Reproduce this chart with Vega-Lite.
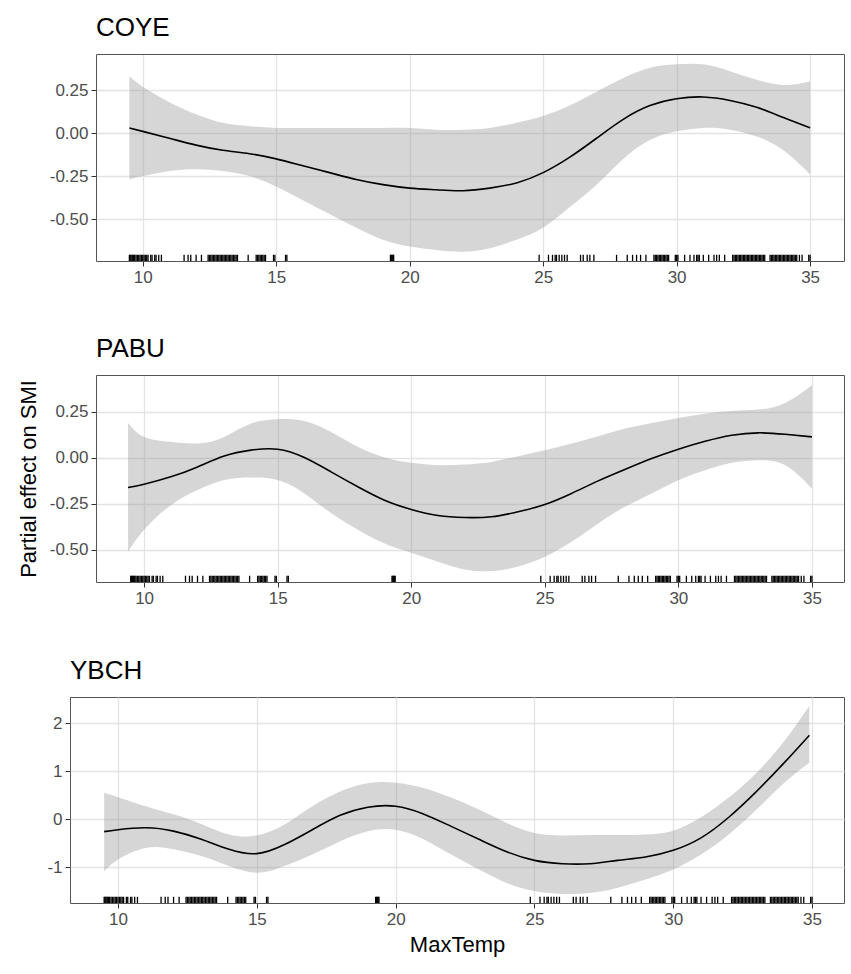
{
  "$schema": "https://vega.github.io/schema/vega-lite/v6.json",
  "background": "white",
  "padding": {"left": 14, "top": 15, "right": 4, "bottom": 4},
  "config": {
    "font": "Liberation Sans",
    "view": {"stroke": "#555555", "strokeWidth": 1},
    "axis": {
      "domain": false,
      "domainColor": "#555555",
      "domainWidth": 1,
      "labelFont": "Liberation Sans",
      "labelFontSize": 17,
      "labelColor": "#4d4d4d",
      "tickColor": "#333333",
      "tickSize": 5,
      "labelPadding": 3,
      "titleFont": "Liberation Sans",
      "titleFontSize": 22,
      "titleFontWeight": "normal",
      "titleColor": "black",
      "titlePadding": 9,
      "gridColor": "#e3e3e3",
      "gridWidth": 1.3
    },
    "title": {
      "anchor": "start",
      "frame": "group",
      "font": "Liberation Sans",
      "fontSize": 26,
      "fontWeight": "normal",
      "color": "black",
      "baseline": "alphabetic",
      "offset": 13
    }
  },
  "datasets": {
    "smooth": [
      {"sp": "COYE", "x": 9.5, "fit": 0.03, "lo": -0.27, "hi": 0.33},
      {"sp": "COYE", "x": 10, "fit": 0.01, "lo": -0.25, "hi": 0.27},
      {"sp": "COYE", "x": 11, "fit": -0.03, "lo": -0.22, "hi": 0.18},
      {"sp": "COYE", "x": 12, "fit": -0.07, "lo": -0.21, "hi": 0.11},
      {"sp": "COYE", "x": 13, "fit": -0.1, "lo": -0.22, "hi": 0.06},
      {"sp": "COYE", "x": 14, "fit": -0.12, "lo": -0.25, "hi": 0.04},
      {"sp": "COYE", "x": 15, "fit": -0.15, "lo": -0.31, "hi": 0.03},
      {"sp": "COYE", "x": 16, "fit": -0.19, "lo": -0.39, "hi": 0.03},
      {"sp": "COYE", "x": 17, "fit": -0.23, "lo": -0.47, "hi": 0.03},
      {"sp": "COYE", "x": 18, "fit": -0.27, "lo": -0.55, "hi": 0.03},
      {"sp": "COYE", "x": 19, "fit": -0.3, "lo": -0.62, "hi": 0.03},
      {"sp": "COYE", "x": 20, "fit": -0.32, "lo": -0.66, "hi": 0.03},
      {"sp": "COYE", "x": 21, "fit": -0.33, "lo": -0.68, "hi": 0.02},
      {"sp": "COYE", "x": 22, "fit": -0.335, "lo": -0.69, "hi": 0.02},
      {"sp": "COYE", "x": 23, "fit": -0.32, "lo": -0.67, "hi": 0.03},
      {"sp": "COYE", "x": 24, "fit": -0.29, "lo": -0.62, "hi": 0.06},
      {"sp": "COYE", "x": 25, "fit": -0.23, "lo": -0.55, "hi": 0.1},
      {"sp": "COYE", "x": 26, "fit": -0.14, "lo": -0.43, "hi": 0.16},
      {"sp": "COYE", "x": 27, "fit": -0.03, "lo": -0.3, "hi": 0.24},
      {"sp": "COYE", "x": 28, "fit": 0.08, "lo": -0.15, "hi": 0.32},
      {"sp": "COYE", "x": 29, "fit": 0.16, "lo": -0.04, "hi": 0.38},
      {"sp": "COYE", "x": 30, "fit": 0.2, "lo": 0.01, "hi": 0.4},
      {"sp": "COYE", "x": 31, "fit": 0.21, "lo": 0.03, "hi": 0.4},
      {"sp": "COYE", "x": 32, "fit": 0.19, "lo": 0.02, "hi": 0.36},
      {"sp": "COYE", "x": 33, "fit": 0.15, "lo": -0.02, "hi": 0.31},
      {"sp": "COYE", "x": 34, "fit": 0.09, "lo": -0.1, "hi": 0.28},
      {"sp": "COYE", "x": 35, "fit": 0.03, "lo": -0.24, "hi": 0.3},
      {"sp": "PABU", "x": 9.4, "fit": -0.161, "lo": -0.51, "hi": 0.19},
      {"sp": "PABU", "x": 10, "fit": -0.143, "lo": -0.39, "hi": 0.114},
      {"sp": "PABU", "x": 11, "fit": -0.103, "lo": -0.257, "hi": 0.087},
      {"sp": "PABU", "x": 12, "fit": -0.049, "lo": -0.175, "hi": 0.078},
      {"sp": "PABU", "x": 13, "fit": 0.01, "lo": -0.12, "hi": 0.114},
      {"sp": "PABU", "x": 14, "fit": 0.042, "lo": -0.107, "hi": 0.186},
      {"sp": "PABU", "x": 15, "fit": 0.047, "lo": -0.12, "hi": 0.21},
      {"sp": "PABU", "x": 16, "fit": 0.002, "lo": -0.193, "hi": 0.2},
      {"sp": "PABU", "x": 17, "fit": -0.076, "lo": -0.3, "hi": 0.141},
      {"sp": "PABU", "x": 18, "fit": -0.157, "lo": -0.39, "hi": 0.06},
      {"sp": "PABU", "x": 19, "fit": -0.23, "lo": -0.465, "hi": 0.002},
      {"sp": "PABU", "x": 20, "fit": -0.28, "lo": -0.515, "hi": -0.027},
      {"sp": "PABU", "x": 21, "fit": -0.313, "lo": -0.564, "hi": -0.04},
      {"sp": "PABU", "x": 22, "fit": -0.324, "lo": -0.606, "hi": -0.036},
      {"sp": "PABU", "x": 23, "fit": -0.32, "lo": -0.615, "hi": -0.022},
      {"sp": "PABU", "x": 24, "fit": -0.293, "lo": -0.59, "hi": 0.009},
      {"sp": "PABU", "x": 25, "fit": -0.253, "lo": -0.537, "hi": 0.042},
      {"sp": "PABU", "x": 26, "fit": -0.193, "lo": -0.456, "hi": 0.078},
      {"sp": "PABU", "x": 27, "fit": -0.125, "lo": -0.356, "hi": 0.118},
      {"sp": "PABU", "x": 28, "fit": -0.063, "lo": -0.266, "hi": 0.159},
      {"sp": "PABU", "x": 29, "fit": -0.004, "lo": -0.193, "hi": 0.19},
      {"sp": "PABU", "x": 30, "fit": 0.047, "lo": -0.121, "hi": 0.217},
      {"sp": "PABU", "x": 31, "fit": 0.09, "lo": -0.067, "hi": 0.24},
      {"sp": "PABU", "x": 32, "fit": 0.123, "lo": -0.027, "hi": 0.255},
      {"sp": "PABU", "x": 33, "fit": 0.136, "lo": -0.013, "hi": 0.262},
      {"sp": "PABU", "x": 34, "fit": 0.128, "lo": -0.04, "hi": 0.298},
      {"sp": "PABU", "x": 35, "fit": 0.114, "lo": -0.166, "hi": 0.394},
      {"sp": "YBCH", "x": 9.5, "fit": -0.26, "lo": -1.09, "hi": 0.55},
      {"sp": "YBCH", "x": 10, "fit": -0.22, "lo": -0.84, "hi": 0.46},
      {"sp": "YBCH", "x": 11, "fit": -0.18, "lo": -0.6, "hi": 0.27},
      {"sp": "YBCH", "x": 12, "fit": -0.25, "lo": -0.63, "hi": 0.1},
      {"sp": "YBCH", "x": 13, "fit": -0.42, "lo": -0.77, "hi": -0.1},
      {"sp": "YBCH", "x": 14, "fit": -0.63, "lo": -0.98, "hi": -0.32},
      {"sp": "YBCH", "x": 15, "fit": -0.72, "lo": -1.12, "hi": -0.34},
      {"sp": "YBCH", "x": 16, "fit": -0.53, "lo": -0.98, "hi": -0.11},
      {"sp": "YBCH", "x": 17, "fit": -0.22, "lo": -0.74, "hi": 0.27},
      {"sp": "YBCH", "x": 18, "fit": 0.08, "lo": -0.46, "hi": 0.58},
      {"sp": "YBCH", "x": 19, "fit": 0.25, "lo": -0.25, "hi": 0.75},
      {"sp": "YBCH", "x": 20, "fit": 0.27, "lo": -0.22, "hi": 0.76},
      {"sp": "YBCH", "x": 21, "fit": 0.11, "lo": -0.42, "hi": 0.65},
      {"sp": "YBCH", "x": 22, "fit": -0.15, "lo": -0.74, "hi": 0.45},
      {"sp": "YBCH", "x": 23, "fit": -0.42, "lo": -1.05, "hi": 0.2},
      {"sp": "YBCH", "x": 24, "fit": -0.68, "lo": -1.33, "hi": -0.08},
      {"sp": "YBCH", "x": 25, "fit": -0.86, "lo": -1.5, "hi": -0.29},
      {"sp": "YBCH", "x": 26, "fit": -0.93, "lo": -1.56, "hi": -0.34},
      {"sp": "YBCH", "x": 27, "fit": -0.93, "lo": -1.54, "hi": -0.33},
      {"sp": "YBCH", "x": 28, "fit": -0.86, "lo": -1.43, "hi": -0.33},
      {"sp": "YBCH", "x": 29, "fit": -0.79, "lo": -1.26, "hi": -0.32},
      {"sp": "YBCH", "x": 30, "fit": -0.65, "lo": -1.05, "hi": -0.24},
      {"sp": "YBCH", "x": 31, "fit": -0.39, "lo": -0.74, "hi": 0.04},
      {"sp": "YBCH", "x": 32, "fit": 0.04, "lo": -0.32, "hi": 0.45},
      {"sp": "YBCH", "x": 33, "fit": 0.58, "lo": 0.2, "hi": 0.97},
      {"sp": "YBCH", "x": 34, "fit": 1.18, "lo": 0.76, "hi": 1.63},
      {"sp": "YBCH", "x": 34.9, "fit": 1.75, "lo": 1.18, "hi": 2.36}
    ],
    "rug": [
      {"t": 9.5}, {"t": 9.53}, {"t": 9.56}, {"t": 9.6}, {"t": 9.63}, {"t": 9.66}, {"t": 9.7}, {"t": 9.75}, {"t": 9.8}, {"t": 9.85},
      {"t": 9.9}, {"t": 9.95}, {"t": 10.0}, {"t": 10.05}, {"t": 10.1}, {"t": 10.15}, {"t": 10.2}, {"t": 10.3}, {"t": 10.35},
      {"t": 10.45}, {"t": 10.5}, {"t": 10.6}, {"t": 10.7},
      {"t": 11.55}, {"t": 11.7}, {"t": 11.8}, {"t": 12.0}, {"t": 12.2},
      {"t": 12.45}, {"t": 12.5}, {"t": 12.55}, {"t": 12.6}, {"t": 12.65}, {"t": 12.7}, {"t": 12.75}, {"t": 12.8}, {"t": 12.85},
      {"t": 12.9}, {"t": 12.95}, {"t": 13.0}, {"t": 13.05}, {"t": 13.1}, {"t": 13.15}, {"t": 13.2}, {"t": 13.25}, {"t": 13.3},
      {"t": 13.35}, {"t": 13.4}, {"t": 13.45}, {"t": 13.5}, {"t": 13.55},
      {"t": 13.95}, {"t": 14.25}, {"t": 14.3}, {"t": 14.35}, {"t": 14.4}, {"t": 14.45}, {"t": 14.5}, {"t": 14.55}, {"t": 14.6},
      {"t": 14.9}, {"t": 14.95}, {"t": 15.35}, {"t": 15.4},
      {"t": 19.28}, {"t": 19.31}, {"t": 19.34}, {"t": 19.37}, {"t": 19.4},
      {"t": 24.85}, {"t": 25.2}, {"t": 25.35}, {"t": 25.45}, {"t": 25.5}, {"t": 25.6}, {"t": 25.7}, {"t": 25.8}, {"t": 25.9},
      {"t": 26.4}, {"t": 26.5}, {"t": 26.65}, {"t": 26.75}, {"t": 26.9}, {"t": 27.75}, {"t": 28.15}, {"t": 28.35}, {"t": 28.5},
      {"t": 28.65}, {"t": 28.85},
      {"t": 29.15}, {"t": 29.2}, {"t": 29.25}, {"t": 29.3}, {"t": 29.35}, {"t": 29.4}, {"t": 29.45}, {"t": 29.5}, {"t": 29.55},
      {"t": 29.6}, {"t": 29.65}, {"t": 29.7}, {"t": 29.95}, {"t": 30.0}, {"t": 30.05}, {"t": 30.3}, {"t": 30.5}, {"t": 30.65},
      {"t": 30.75}, {"t": 30.8}, {"t": 30.85}, {"t": 31.0}, {"t": 31.2}, {"t": 31.4}, {"t": 31.5}, {"t": 31.6}, {"t": 31.8},
      {"t": 32.1}, {"t": 32.15}, {"t": 32.2}, {"t": 32.25}, {"t": 32.3}, {"t": 32.35}, {"t": 32.4}, {"t": 32.45}, {"t": 32.5},
      {"t": 32.55}, {"t": 32.6}, {"t": 32.65}, {"t": 32.7}, {"t": 32.75}, {"t": 32.8}, {"t": 32.85}, {"t": 32.9}, {"t": 32.95},
      {"t": 33.0}, {"t": 33.05}, {"t": 33.1}, {"t": 33.15}, {"t": 33.2}, {"t": 33.25}, {"t": 33.3},
      {"t": 33.5}, {"t": 33.55}, {"t": 33.6}, {"t": 33.65}, {"t": 33.7}, {"t": 33.75}, {"t": 33.8}, {"t": 33.85}, {"t": 33.9},
      {"t": 33.95}, {"t": 34.0}, {"t": 34.05}, {"t": 34.1}, {"t": 34.15}, {"t": 34.2}, {"t": 34.25}, {"t": 34.3}, {"t": 34.35},
      {"t": 34.4}, {"t": 34.45}, {"t": 34.5}, {"t": 34.6}, {"t": 34.7}, {"t": 34.95}, {"t": 35.0}
    ]
  },
  "concat": [
    {
      "title": {"text": "COYE", "dx": 26},
      "width": 774,
      "height": 207,
      "view": {"stroke": null},
      "resolve": {"axis": {"x": "independent", "y": "independent"}},
      "layer": [
        {
          "data": {"name": "smooth"},
          "transform": [{"filter": "datum.sp === 'COYE'"}],
          "mark": {"type": "area", "color": "#999999", "opacity": 0.4, "interpolate": "natural"},
          "encoding": {
            "x": {
              "field": "x", "type": "quantitative", "title": null,
              "scale": {"domain": [8.25, 36.27], "range": [26, 774], "nice": false, "zero": false},
              "axis": {"values": [10, 15, 20, 25, 30, 35], "format": "d", "domain": true}
            },
            "y": {
              "field": "lo", "type": "quantitative", "title": " ",
              "scale": {"domain": [-0.744, 0.46], "nice": false, "zero": false},
              "axis": {
                "values": [-0.5, -0.25, 0, 0.25],
                "labelExpr": "(datum.value < 0 ? '-' : '') + format(abs(datum.value), '.2f')",
                "offset": -26,
                "domain": true
              }
            },
            "y2": {"field": "hi"}
          }
        },
        {
          "data": {"name": "smooth"},
          "transform": [{"filter": "datum.sp === 'COYE'"}],
          "mark": {"type": "line", "color": "black", "strokeWidth": 1.6, "interpolate": "natural"},
          "encoding": {
            "x": {
              "field": "x", "type": "quantitative",
              "axis": {"orient": "top", "values": [12.5, 17.5, 22.5, 27.5, 32.5], "labels": false, "ticks": false, "title": null, "domain": true, "gridColor": "#f0f0f0", "gridWidth": 0.8}
            },
            "y": {
              "field": "fit", "type": "quantitative",
              "axis": {"orient": "right", "values": [-0.625, -0.375, -0.125, 0.125, 0.375], "labels": false, "ticks": false, "title": null, "domain": true, "gridColor": "#f0f0f0", "gridWidth": 0.8}
            }
          }
        },
        {
          "data": {"name": "rug"},
          "mark": {"type": "rule", "color": "black", "strokeWidth": 1.3},
          "encoding": {
            "x": {"field": "t", "type": "quantitative", "axis": null},
            "y": {"datum": -0.744, "axis": null},
            "y2": {"datum": -0.708}
          }
        }
      ]
    },
    {
      "title": {"text": "PABU", "dx": 26},
      "width": 774,
      "height": 207,
      "view": {"stroke": null},
      "resolve": {"axis": {"x": "independent", "y": "independent"}},
      "layer": [
        {
          "data": {"name": "smooth"},
          "transform": [{"filter": "datum.sp === 'PABU'"}],
          "mark": {"type": "area", "color": "#999999", "opacity": 0.4, "interpolate": "natural"},
          "encoding": {
            "x": {
              "field": "x", "type": "quantitative", "title": null,
              "scale": {"domain": [8.2, 36.2], "range": [26, 774], "nice": false, "zero": false},
              "axis": {"values": [10, 15, 20, 25, 30, 35], "format": "d", "domain": true}
            },
            "y": {
              "field": "lo", "type": "quantitative", "title": "Partial effect on SMI",
              "scale": {"domain": [-0.674, 0.45], "nice": false, "zero": false},
              "axis": {
                "values": [-0.5, -0.25, 0, 0.25],
                "labelExpr": "(datum.value < 0 ? '-' : '') + format(abs(datum.value), '.2f')",
                "offset": -26,
                "domain": true
              }
            },
            "y2": {"field": "hi"}
          }
        },
        {
          "data": {"name": "smooth"},
          "transform": [{"filter": "datum.sp === 'PABU'"}],
          "mark": {"type": "line", "color": "black", "strokeWidth": 1.6, "interpolate": "natural"},
          "encoding": {
            "x": {
              "field": "x", "type": "quantitative",
              "axis": {"orient": "top", "values": [12.5, 17.5, 22.5, 27.5, 32.5], "labels": false, "ticks": false, "title": null, "domain": true, "gridColor": "#f0f0f0", "gridWidth": 0.8}
            },
            "y": {
              "field": "fit", "type": "quantitative",
              "axis": {"orient": "right", "values": [-0.625, -0.375, -0.125, 0.125, 0.375], "labels": false, "ticks": false, "title": null, "domain": true, "gridColor": "#f0f0f0", "gridWidth": 0.8}
            }
          }
        },
        {
          "data": {"name": "rug"},
          "mark": {"type": "rule", "color": "black", "strokeWidth": 1.3},
          "encoding": {
            "x": {"field": "t", "type": "quantitative", "axis": null},
            "y": {"datum": -0.674, "axis": null},
            "y2": {"datum": -0.64}
          }
        }
      ]
    },
    {
      "title": "YBCH",
      "width": 774,
      "height": 206,
      "resolve": {"axis": {"x": "independent", "y": "independent"}},
      "layer": [
        {
          "data": {"name": "smooth"},
          "transform": [{"filter": "datum.sp === 'YBCH'"}],
          "mark": {"type": "area", "color": "#999999", "opacity": 0.4, "interpolate": "natural"},
          "encoding": {
            "x": {
              "field": "x", "type": "quantitative", "title": "MaxTemp",
              "scale": {"domain": [8.27, 36.15], "nice": false, "zero": false},
              "axis": {"values": [10, 15, 20, 25, 30, 35], "format": "d", "titlePadding": 7}
            },
            "y": {
              "field": "lo", "type": "quantitative", "title": " ",
              "scale": {"domain": [-1.75, 2.55], "nice": false, "zero": false},
              "axis": {
                "values": [-1, 0, 1, 2],
                "labelExpr": "(datum.value < 0 ? '-' : '') + format(abs(datum.value), 'd')"
              }
            },
            "y2": {"field": "hi"}
          }
        },
        {
          "data": {"name": "smooth"},
          "transform": [{"filter": "datum.sp === 'YBCH'"}],
          "mark": {"type": "line", "color": "black", "strokeWidth": 1.6, "interpolate": "natural"},
          "encoding": {
            "x": {
              "field": "x", "type": "quantitative",
              "axis": {"orient": "top", "values": [12.5, 17.5, 22.5, 27.5, 32.5], "labels": false, "ticks": false, "title": null, "gridColor": "#f0f0f0", "gridWidth": 0.8}
            },
            "y": {
              "field": "fit", "type": "quantitative",
              "axis": {"orient": "right", "values": [-1.5, -0.5, 0.5, 1.5, 2.5], "labels": false, "ticks": false, "title": null, "gridColor": "#f0f0f0", "gridWidth": 0.8}
            }
          }
        },
        {
          "data": {"name": "rug"},
          "mark": {"type": "rule", "color": "black", "strokeWidth": 1.3},
          "encoding": {
            "x": {"field": "t", "type": "quantitative", "axis": null},
            "y": {"datum": -1.75, "axis": null},
            "y2": {"datum": -1.62}
          }
        }
      ]
    }
  ],
  "columns": 1,
  "spacing": 51
}
